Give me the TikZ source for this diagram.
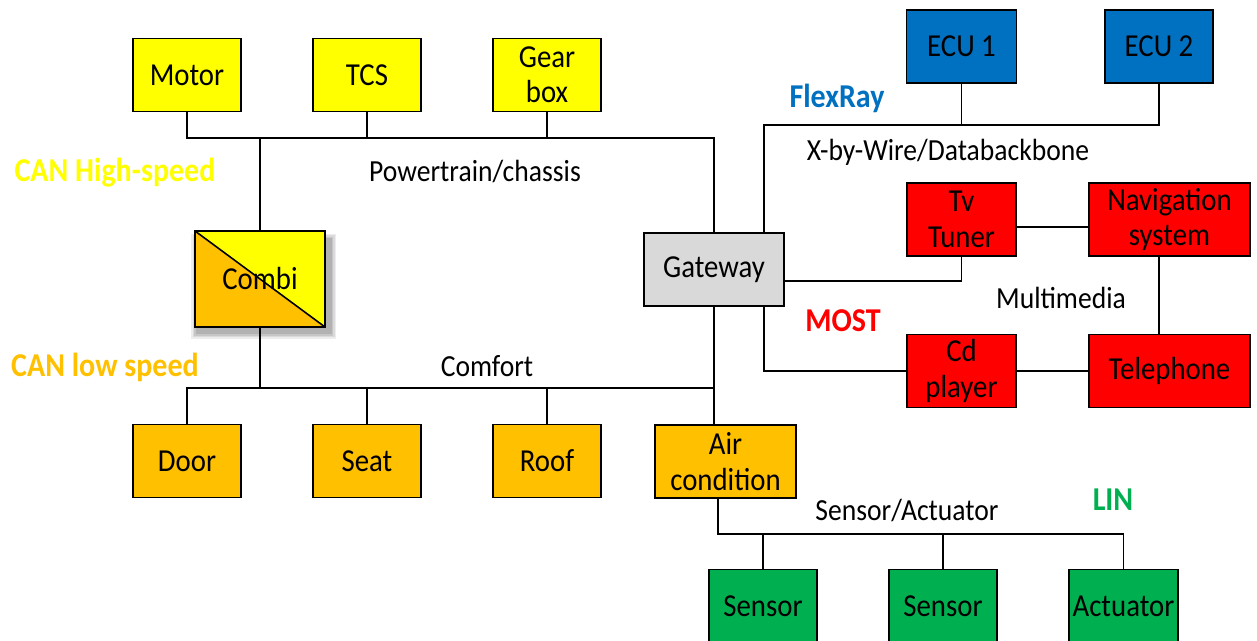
\documentclass[tikz,border=0pt]{standalone}
\usepackage{fontspec}
\setmainfont{Carlito}[FakeStretch=0.9]
\usetikzlibrary{calc}

\definecolor{ptyellow}{HTML}{FFFF00}
\definecolor{comfortorange}{HTML}{FFC000}
\definecolor{flexblue}{HTML}{0070C0}
\definecolor{mostred}{HTML}{FF0000}
\definecolor{lingreen}{HTML}{00B050}
\definecolor{gwgray}{HTML}{D9D9D9}

% one drawing unit is one pixel of the 1257 x 641 canvas
\newcommand\pxl[1]{#1*0.75pt}

\tikzset{
  unit/.style={draw=black, line width=1.3pt, inner sep=0pt, align=center,
    font=\fontsize{24}{26.5}\selectfont,
    minimum width=\pxl{108}, minimum height=\pxl{73}},
  wide/.style={minimum width=\pxl{161}},
  bus/.style={draw=black, line width=1.2pt},
  buslabel/.style={font=\fontsize{23}{26}\selectfont, inner sep=0pt},
  netname/.style={font=\fontsize{25}{28}\selectfont\bfseries, inner sep=0pt},
}

\begin{document}
\begin{tikzpicture}[x=0.75pt, y=-0.75pt]
\useasboundingbox (0,0) rectangle (1257,641);
\clip (0,0) rectangle (1257,641);

% ---------- powertrain / chassis (CAN high speed) ----------
\node[unit, fill=ptyellow] (motor) at (187,75) {Motor};
\node[unit, fill=ptyellow] (tcs)   at (367,75) {TCS};
\node[unit, fill=ptyellow] (gear)  at (547,75) {Gear\\box};

% ---------- gateway ----------
\node[unit, fill=gwgray, minimum width=\pxl{140}] (gw) at (714,269.5) {Gateway};

% ---------- combi instrument: shared by both CAN buses ----------
\foreach \d/\o in {5/0.07, 3.5/0.08, 2/0.09, 0.5/0.1}
  \fill[black, opacity=\o] ($(196,239)+(-\d,-\d)$) rectangle ($(331,334)+(\d,\d)$);
\fill[comfortorange] (195,231) rectangle (325,327);
\fill[ptyellow] (195,231) -- (325,231) -- (325,327) -- cycle;
\draw[line width=1.2pt] (195,231) -- (325,327);
\node[draw=black, line width=1.3pt, minimum width=\pxl{130}, minimum height=\pxl{96},
      inner sep=0pt, font=\fontsize{24}{26}\selectfont] (combi) at (260,279) {Combi};

% ---------- comfort (CAN low speed) ----------
\node[unit, fill=comfortorange] (door) at (187,461) {Door};
\node[unit, fill=comfortorange] (seat) at (367,461) {Seat};
\node[unit, fill=comfortorange] (roof) at (547,461) {Roof};
\node[unit, fill=comfortorange, minimum width=\pxl{141}] (air) at (725.5,461.5) {Air\\condition};

% ---------- FlexRay ----------
\node[unit, fill=flexblue, minimum width=\pxl{110}] (ecu1) at (961.5,46.5) {ECU 1};
\node[unit, fill=flexblue] (ecu2) at (1159,46.5) {ECU 2};

% ---------- MOST ----------
\node[unit, fill=mostred, minimum width=\pxl{109}] (tv)  at (961.5,219.5) {Tv\\Tuner};
\node[unit, fill=mostred, wide] (nav) at (1169.5,219.5) {Navigation\\system};
\node[unit, fill=mostred, minimum width=\pxl{109}] (cd)  at (961.5,371) {Cd\\player};
\node[unit, fill=mostred, wide] (tel) at (1169.5,371) {Telephone};

% ---------- LIN ----------
\node[unit, fill=lingreen] (sen1) at (763,606) {Sensor};
\node[unit, fill=lingreen] (sen2) at (943,606) {Sensor};
\node[unit, fill=lingreen, minimum width=\pxl{109}] (act) at (1123.5,606) {Actuator};

% ---------- bus lines ----------
\coordinate (pbus) at (0,138);
\draw[bus] (motor.south) -- (motor.south |- pbus) -- (gw.north |- pbus) -- (gw.north);
\draw[bus] (tcs.south) -- (tcs.south |- pbus);
\draw[bus] (gear.south) -- (gear.south |- pbus);
\draw[bus] (combi.north) -- (combi.north |- pbus);

\coordinate (cbus) at (0,388);
\draw[bus] (combi.south) -- (combi.south |- cbus);
\draw[bus] (door.north) -- (door.north |- cbus) -- (gw.south |- cbus);
\draw[bus] (seat.north) -- (seat.north |- cbus);
\draw[bus] (roof.north) -- (roof.north |- cbus);
\draw[bus] (gw.south) -- (gw.south |- air.north);

\coordinate (fbus) at (0,125);
\coordinate (gwTop) at ($(gw.north east)+(-21,0)$);
\draw[bus] (gwTop) -- (gwTop |- fbus) -- (ecu2.south |- fbus) -- (ecu2.south);
\draw[bus] (ecu1.south) -- (ecu1.south |- fbus);

\coordinate (gwRight) at ($(gw.east)+(0,11.5)$);
\draw[bus] (gwRight) -| (tv.south);
\draw[bus] ($(tv.east)+(0,7.5)$) -- ($(nav.west)+(0,7.5)$);
\draw[bus] ($(nav.south)+(-10.5,0)$) -- ($(tel.north)+(-10.5,0)$);
\coordinate (gwBot) at ($(gw.south east)+(-21,0)$);
\draw[bus] (gwBot) |- (cd.west);
\draw[bus] (cd.east) -- (tel.west);

\coordinate (lbus) at (0,534);
\coordinate (airOut) at ($(air.south)+(-7.5,0)$);
\draw[bus] (airOut) -- (airOut |- lbus) -- (act.north |- lbus) -- (act.north);
\draw[bus] (sen1.north) -- (sen1.north |- lbus);
\draw[bus] (sen2.north) -- (sen2.north |- lbus);

% ---------- bus names ----------
\node[buslabel] (lpt)  at (475,172) {Powertrain/chassis};
\node[buslabel] (lcf)  at (487,366) {Comfort};
\node[buslabel] (lxw)  at (948,152) {X-by-Wire/Databackbone};
\node[buslabel] (lmm)  at (1061,298) {Multimedia};
\node[buslabel] (lsa)  at (907,511) {Sensor/Actuator};

\node[netname, text=ptyellow]      (nhi)  at (115,173) {CAN High-speed};
\node[netname, text=comfortorange] (nlo)  at (105,367) {CAN low speed};
\node[netname, text=flexblue]      (nfr)  at (837,98)  {FlexRay};
\node[netname, text=mostred]       (nmo)  at (843,321) {MOST};
\node[netname, text=lingreen]      (nlin) at (1113,500) {LIN};
\end{tikzpicture}
\end{document}
